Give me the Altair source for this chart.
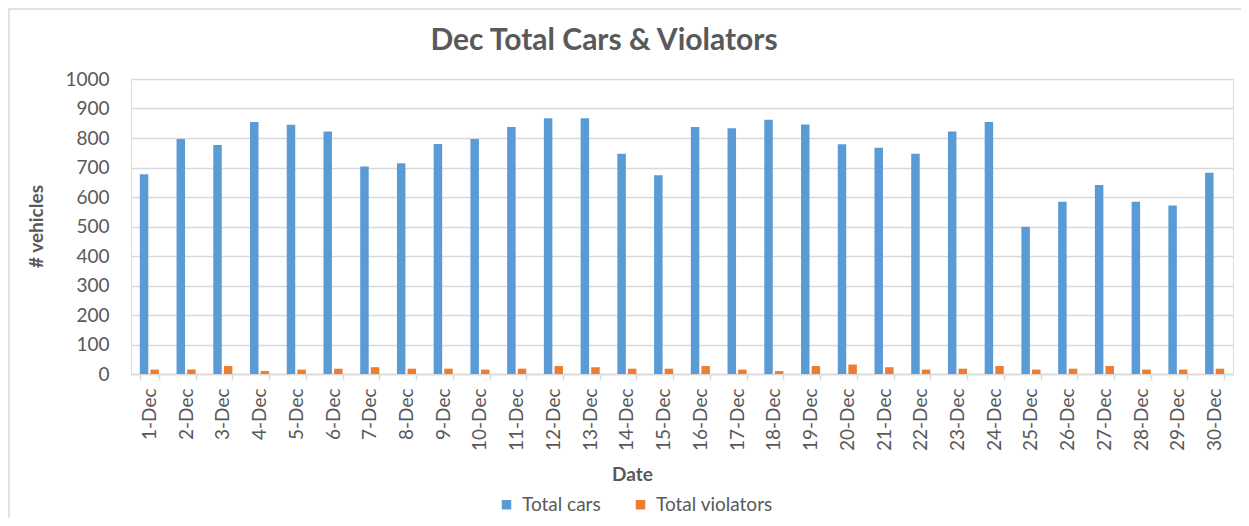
import altair as alt
import pandas as pd

dates = ["1-Dec", "2-Dec", "3-Dec", "4-Dec", "5-Dec", "6-Dec", "7-Dec", "8-Dec", "9-Dec", "10-Dec",
         "11-Dec", "12-Dec", "13-Dec", "14-Dec", "15-Dec", "16-Dec", "17-Dec", "18-Dec", "19-Dec", "20-Dec",
         "21-Dec", "22-Dec", "23-Dec", "24-Dec", "25-Dec", "26-Dec", "27-Dec", "28-Dec", "29-Dec", "30-Dec"]
total_cars = [677, 797, 776, 854, 845, 822, 703, 714, 780, 797,
              837, 867, 867, 747, 674, 837, 833, 862, 846, 779,
              767, 747, 822, 854, 499, 584, 641, 584, 571, 682]
total_violators = [15, 15, 27, 10, 15, 18, 23, 18, 18, 15,
                   18, 27, 23, 18, 18, 27, 15, 10, 27, 32,
                   23, 15, 18, 27, 15, 18, 27, 15, 15, 18]
series = ["Total cars", "Total violators"]
colors = ["#5B9BD5", "#ED7D31"]
y_ticks = [0, 100, 200, 300, 400, 500, 600, 700, 800, 900, 1000]

rows = []
for d, c, v in zip(dates, total_cars, total_violators):
    rows.append({"date": d, "series": series[0], "value": c})
    rows.append({"date": d, "series": series[1], "value": v})
df = pd.DataFrame(rows)

FONT = "Lato"
GRAY = "#595959"
LINE = "#d9d9d9"
W, H = 1102, 295
PL, PT, PR, PB = 123, 71, 8, 144

bars = alt.Chart(df).mark_bar().encode(
    x=alt.X("date:N", sort=dates,
            scale=alt.Scale(paddingInner=0.48, paddingOuter=0.24),
            axis=alt.Axis(title="Date", labelAngle=270, labelFont=FONT, labelFontSize=19,
                          labelColor=GRAY, labelPadding=8, tickBand="extent", tickSize=6,
                          tickColor=LINE, tickWidth=1.5, domainColor=LINE, domainWidth=1.5,
                          grid=False, titleFont=FONT, titleFontSize=19, titleFontWeight="bold",
                          titleColor=GRAY, titleX=501, titleY=106, titleBaseline="alphabetic",
                          titleAlign="center")),
    xOffset=alt.XOffset("series:N", sort=series, scale=alt.Scale(paddingInner=0.2)),
    y=alt.Y("value:Q", scale=alt.Scale(domain=[0, 1000], nice=False),
            axis=alt.Axis(values=y_ticks, format="d", title="# vehicles", titleAngle=270,
                          titleX=-89, titleY=147,
                          titleBaseline="alphabetic", titleAlign="center", titleFont=FONT,
                          titleFontSize=19, titleFontWeight="bold", titleColor=GRAY,
                          domain=False, ticks=False, labelPadding=22, labelFont=FONT,
                          labelFontSize=19, labelColor=GRAY, gridColor=LINE, gridWidth=1.5)),
    color=alt.Color("series:N", sort=series,
                    scale=alt.Scale(domain=series, range=colors),
                    legend=alt.Legend(title=None, orient="none", legendX=366, legendY=416,
                                      direction="horizontal", symbolType="square", symbolSize=90,
                                      symbolStrokeWidth=0, labelFont=FONT, labelFontSize=19,
                                      labelColor=GRAY, labelOffset=6, columnPadding=30)),
)

border = alt.Chart(pd.DataFrame({"a": [0]})).mark_rect(
    filled=False, stroke=LINE, strokeWidth=1.5
).encode(
    x=alt.value(-PL + 1), x2=alt.value(W + PR + 30),
    y=alt.value(-PT + 1), y2=alt.value(H + PB + 30),
)

chart = alt.layer(border, bars).properties(
    width=W, height=H,
    autosize=alt.AutoSizeParams(type="none"),
    padding={"left": PL, "top": PT, "right": PR, "bottom": PB},
    title=alt.Title("Dec Total Cars & Violators", font=FONT, fontSize=30, fontWeight="bold",
                    color=GRAY, anchor="middle", dx=-78, offset=0, dy=72,
                    baseline="alphabetic"),
).configure_view(stroke=None).configure(background="white")

chart.save("out.html", embed_options={"renderer": "svg", "actions": False})
